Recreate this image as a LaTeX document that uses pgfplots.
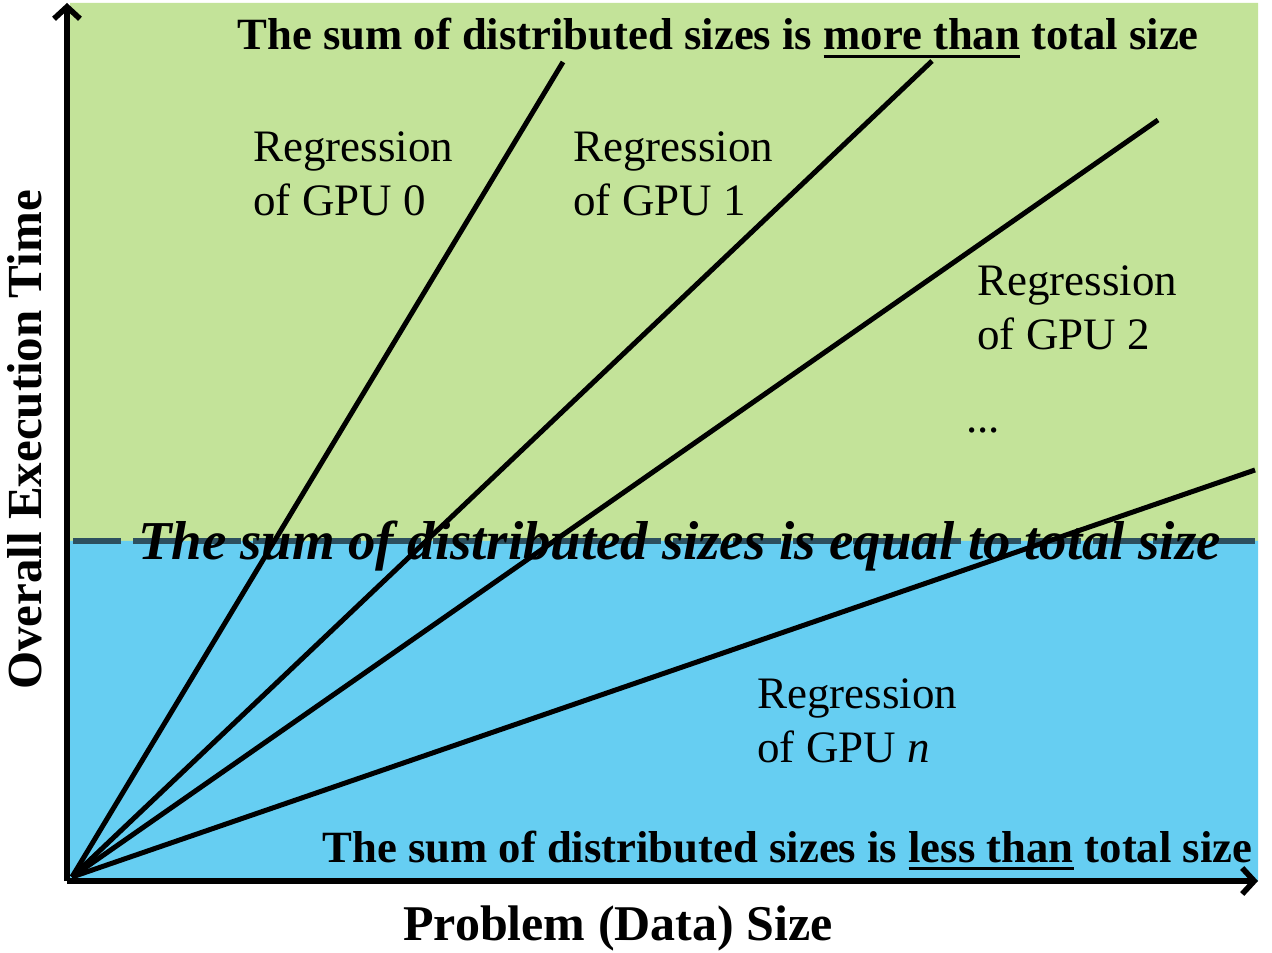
\documentclass[border=0pt]{standalone}
\usepackage{fontspec}
\setmainfont{Liberation Serif}
\usepackage{pgfplots}
\pgfplotsset{compat=1.18}
\usetikzlibrary{arrows.meta}

\definecolor{zonegreen}{RGB}{195,227,153}
\definecolor{zoneblue}{RGB}{102,206,242}
\definecolor{dashslate}{RGB}{45,80,95}

% underline with a fixed offset and thickness
\newcommand\ul[1]{\setbox0\hbox{#1}\rlap{\rule[-4pt]{\wd0}{1.5pt}}\box0\relax}

\begin{document}
\begin{tikzpicture}
\begin{axis}[
    x=0.5pt, y=0.5pt,
    xmin=0, xmax=1191,
    ymin=0, ymax=878,
    axis lines=left,
    axis line style={line width=2.8pt, -{Straight Barb[length=6pt,width=13pt]}},
    xtick=\empty, ytick=\empty,
    clip=false,
    axis on top,
]
% background zones
\addplot[draw=none, fill=zonegreen] coordinates {(3,340) (1191,340) (1191,878) (3,878) (3,340)};
\addplot[draw=none, fill=zoneblue] coordinates {(3,0) (1191,0) (1191,340) (3,340) (3,0)};
% boundary: sum equal to total size
\addplot[dashslate, line width=3pt, dash pattern=on 24pt off 6pt] coordinates {(6,340) (1188,340)};

% regression lines
\addplot[black, line width=2.5pt] coordinates {(5,4) (496,819)};
\addplot[black, line width=2.5pt] coordinates {(5,4) (865,820)};
\addplot[black, line width=2.5pt] coordinates {(5,4) (1091,761)};
\addplot[black, line width=2.5pt] coordinates {(5,4) (1188,411)};

% labels
\node[anchor=base west, inner sep=0, font=\fontsize{22.35}{27}\selectfont\bfseries]
  at (axis cs:170,831) {The sum of distributed sizes is \ul{more than} total size};
\node[anchor=base west, inner sep=0, font=\fontsize{27.4}{32}\selectfont\bfseries\itshape]
  at (axis cs:71,321) {The sum of distributed sizes is equal to total size};
\node[anchor=base west, inner sep=0, font=\fontsize{22.35}{27}\selectfont\bfseries]
  at (axis cs:255,19) {The sum of distributed sizes is \ul{less than} total size};

\node[anchor=north west, inner sep=0, align=left, font=\fontsize{22.5}{27}\selectfont]
  at (axis cs:186,750) {Regression\\of GPU 0};
\node[anchor=north west, inner sep=0, align=left, font=\fontsize{22.5}{27}\selectfont]
  at (axis cs:506,750) {Regression\\of GPU 1};
\node[anchor=north west, inner sep=0, align=left, font=\fontsize{22.5}{27}\selectfont]
  at (axis cs:910,616) {Regression\\of GPU 2};
\node[anchor=base west, inner sep=0, font=\fontsize{22.5}{27}\selectfont]
  at (axis cs:899,448) {...};
\node[anchor=north west, inner sep=0, align=left, font=\fontsize{22.5}{27}\selectfont]
  at (axis cs:690,203) {Regression\\of GPU \textit{n}};

% axis titles
\node[anchor=base, inner sep=0, font=\fontsize{25}{30}\selectfont\bfseries]
  at (axis cs:551,-59) {Problem (Data) Size};
\node[anchor=base, inner sep=0, rotate=90, font=\fontsize{24.5}{30}\selectfont\bfseries]
  at (axis cs:-25,441) {Overall Execution Time};

% page extent
\path (axis cs:-67,-71) rectangle (axis cs:1205,881);
\end{axis}
\end{tikzpicture}
\end{document}
